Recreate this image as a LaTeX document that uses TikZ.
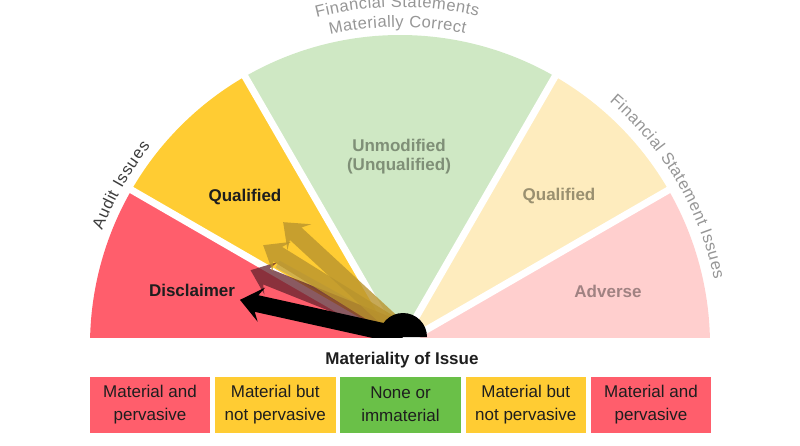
\documentclass[tikz,border=0pt]{standalone}
\usepackage{fontspec}
\setmainfont{Liberation Sans}
\usetikzlibrary{decorations.text,calc}
\definecolor{cRed}{RGB}{255,94,108}
\definecolor{cYel}{RGB}{255,204,51}
\definecolor{cGreL}{RGB}{207,232,196}
\definecolor{cYelL}{RGB}{254,236,190}
\definecolor{cPink}{RGB}{255,207,206}
\definecolor{cGreB}{RGB}{106,192,72}
\definecolor{cDark}{RGB}{30,30,30}
\definecolor{cSide}{RGB}{60,60,60}
\definecolor{cGrayT}{RGB}{150,150,150}
\definecolor{cUnm}{RGB}{127,143,119}
\definecolor{cQR}{RGB}{154,144,112}
\definecolor{cAdv}{RGB}{160,130,130}
\definecolor{cMaroon}{RGB}{100,35,45}
\definecolor{cGold}{RGB}{185,148,45}
\newcommand\drawneedle[4]{%
  \fill[#4, shift={#1}, rotate=#2] (0,-8.5) -- ({#3-17},-8.5) -- ({#3-22},-17.5) -- (#3,0) -- ({#3-22},17.5) -- ({#3-17},8.5) -- (0,8.5) -- cycle;}
\newcommand\sidefont{\fontsize{16.5}{16.5}\selectfont}
\begin{document}
\begin{tikzpicture}[x=1pt,y=1pt,
  seclab/.style={font=\fontsize{17}{19}\selectfont\bfseries, align=center, inner sep=0},
  matbox/.style={minimum width=121.5pt, minimum height=57pt, inner sep=0, align=center,
     font=\fontsize{17}{23}\selectfont, text=cDark, draw=white, line width=0.8pt},
  gap/.style={white, line width=7pt}]
\useasboundingbox (0,0) rectangle (800,445);
\coordinate (C) at (400,100);
\begin{scope}
  \clip (0,108) rectangle (800,445);
  \fill[cRed]  (C) -- ++(180:310) arc[start angle=180,end angle=150,radius=310] -- cycle;
  \fill[cYel]  (C) -- ++(150:310) arc[start angle=150,end angle=120,radius=310] -- cycle;
  \fill[cGreL] (C) -- ++(120:310) arc[start angle=120,end angle=60,radius=310] -- cycle;
  \fill[cYelL] (C) -- ++(60:310) arc[start angle=60,end angle=30,radius=310] -- cycle;
  \fill[cPink] (C) -- ++(30:310) arc[start angle=30,end angle=0,radius=310] -- cycle;
  \foreach \a in {30,60,120,150} \draw[gap] (C) -- ++(\a:313);
  % sector labels
  \node[seclab, text=cDark] (qualL) at (245,248) {Qualified};
  \node[seclab, text=cDark] (discl) at (192,155) {Disclaimer};
  \node[seclab, text=cUnm] (unmod) at (399,288.5) {Unmodified\\(Unqualified)};
  \node[seclab, text=cQR] (qualR) at (559,249) {Qualified};
  \node[seclab, text=cAdv] (adv) at (608,154) {Adverse};
  % ghost needles
  \fill[gray, opacity=0.35, shift={(400,113)}, rotate=151] (0,-4) rectangle (140,4);
  \drawneedle{(400,115)}{158.2}{161}{cMaroon, opacity=0.75}
  \drawneedle{(400,115)}{148.2}{161}{cGold, opacity=0.8}
  \drawneedle{(400,115)}{137.3}{159}{cGold, opacity=0.8}
  % main needle
  \drawneedle{(403,109)}{167.5}{167}{black}
  \fill[black] (379,108) arc[start angle=180,end angle=0,radius=24] -- cycle;
\end{scope}
% curved titles
\path[decorate,decoration={text along path,text={|\sidefont|Audit Issues},text align=fit to path,text color=cSide}]
  ($(C)+(159:319)$) arc[start angle=159,end angle=141.5,radius=319];
\path[decorate,decoration={text along path,text={|\sidefont|Financial Statement Issues},text align=fit to path,text color=cGrayT}]
  ($(C)+(49.3:321)$) arc[start angle=49.3,end angle=11.8,radius=321];
\path[decorate,decoration={text along path,text={|\sidefont|Financial Statements},text align=fit to path,text color=cGrayT}]
  ($(C)+(104.3:338)$) arc[start angle=104.3,end angle=76.7,radius=338];
\path[decorate,decoration={text along path,text={|\sidefont|Materially Correct},text align=fit to path,text color=cGrayT}]
  ($(C)+(102.7:318)$) arc[start angle=102.7,end angle=78.2,radius=318];
% materiality scale
\node[font=\fontsize{17}{19}\selectfont\bfseries, text=cDark] (mtitle) at (402,85) {Materiality of Issue};
\node[matbox, fill=cRed]  (b1) at (150,40.5)    {Material and\\pervasive};
\node[matbox, fill=cYel]  (b2) at (275.25,40.5) {Material but\\not pervasive};
\node[matbox, fill=cGreB] (b3) at (400.5,40.5)  {None or\\immaterial};
\node[matbox, fill=cYel]  (b4) at (525.75,40.5) {Material but\\not pervasive};
\node[matbox, fill=cRed]  (b5) at (651,40.5)    {Material and\\pervasive};
\end{tikzpicture}
\end{document}
